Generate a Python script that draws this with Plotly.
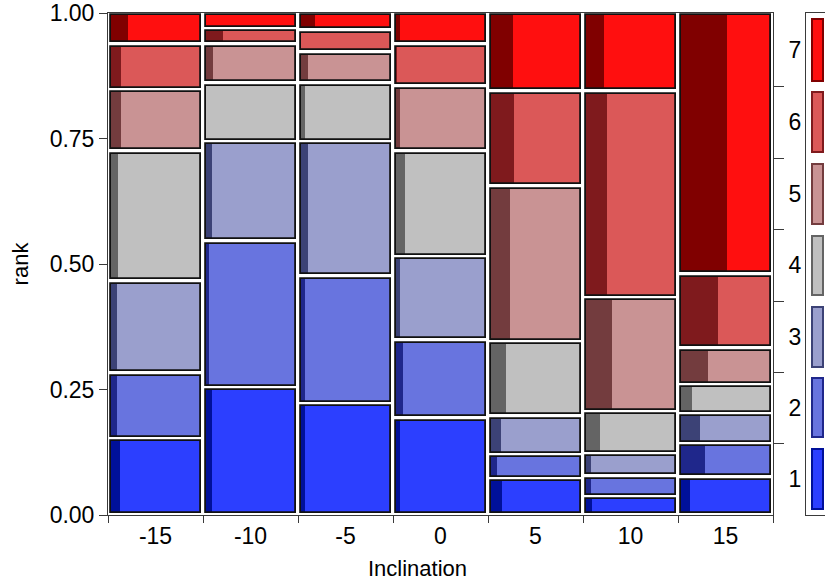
import numpy as np
import plotly.graph_objects as go

# Inclination levels (x) and rank levels (stacked within each column)
inclination = ["-15", "-10", "-5", "0", "5", "10", "15"]
ranks = ["1", "2", "3", "4", "5", "6", "7"]

# Share of each rank within each inclination column
share_r1 = [0.151, 0.253, 0.221, 0.192, 0.072, 0.036, 0.075]
share_r2 = [0.131, 0.292, 0.254, 0.156, 0.048, 0.041, 0.066]
share_r3 = [0.183, 0.198, 0.268, 0.166, 0.076, 0.045, 0.060]
share_r4 = [0.259, 0.117, 0.117, 0.210, 0.149, 0.083, 0.058]
share_r5 = [0.123, 0.077, 0.061, 0.130, 0.309, 0.227, 0.073]
share_r6 = [0.090, 0.031, 0.044, 0.083, 0.190, 0.412, 0.147]
share_r7 = [0.063, 0.032, 0.035, 0.063, 0.156, 0.156, 0.521]

# Fraction of each cell taken by the darker sub-group strip
dark_r1 = [0.107, 0.070, 0.048, 0.045, 0.133, 0.074, 0.100]
dark_r2 = [0.074, 0.040, 0.048, 0.085, 0.067, 0.063, 0.267]
dark_r3 = [0.074, 0.074, 0.078, 0.050, 0.122, 0.063, 0.222]
dark_r4 = [0.085, 0.000, 0.048, 0.105, 0.167, 0.160, 0.133]
dark_r5 = [0.115, 0.085, 0.078, 0.050, 0.222, 0.297, 0.311]
dark_r6 = [0.115, 0.196, 0.000, 0.020, 0.256, 0.240, 0.422]
dark_r7 = [0.196, 0.000, 0.160, 0.050, 0.245, 0.208, 0.518]

shares = [share_r1, share_r2, share_r3, share_r4, share_r5, share_r6, share_r7]
darks = [dark_r1, dark_r2, dark_r3, dark_r4, dark_r5, dark_r6, dark_r7]

light_colors = ["#2c3fff", "#6874df", "#9a9fcd", "#c0c0c0", "#c99394", "#db5858", "#ff0f0f"]
dark_colors = ["#00109a", "#1f278b", "#3c4276", "#646464", "#733c3e", "#7f1a1d", "#800000"]

FONT = "Liberation Sans, Arial, sans-serif"
FS_TICK = 23
FS_TITLE = 22

S = np.array(shares, dtype=float)
S = S / S.sum(axis=0, keepdims=True)
cum = np.vstack([np.zeros(S.shape[1]), np.cumsum(S, axis=0)[:-1]])

cw = 1 - 5 / 95.0        # cell width (category units)
gy = 4.5 / 502.0         # vertical gap between stacked cells

fig = go.Figure()

for k in range(len(ranks)):
    h = S[k] - gy
    b = cum[k] + gy / 2
    fig.add_trace(go.Bar(
        x=inclination, y=h, base=b, width=cw, offset=-cw / 2,
        marker=dict(color=light_colors[k], line=dict(width=0)),
        showlegend=False, hoverinfo="skip"))
    fig.add_trace(go.Bar(
        x=inclination, y=h, base=b, width=[cw * d for d in darks[k]], offset=-cw / 2,
        marker=dict(color=dark_colors[k], line=dict(width=0)),
        showlegend=False, hoverinfo="skip"))
    fig.add_trace(go.Bar(
        x=inclination, y=h, base=b, width=cw, offset=-cw / 2,
        marker=dict(color="rgba(0,0,0,0)", line=dict(color="#111111", width=1.8)),
        showlegend=False, hoverinfo="skip"))

# Marginal rank distribution (right axis and colour key)
marg = S.mean(axis=1)
mcum = np.concatenate([[0], np.cumsum(marg)])
bounds = mcum[1:-1]
centers = (mcum[:-1] + mcum[1:]) / 2

fig.add_trace(go.Bar(
    x=[0.5] * len(ranks), y=marg - 2 * gy * 1.3, base=mcum[:-1] + gy * 1.3,
    width=0.58, offset=-0.2,
    marker=dict(color=light_colors, line=dict(color=dark_colors, width=2)),
    xaxis="x2", yaxis="y2", showlegend=False, hoverinfo="skip"))

# invisible anchors for the right-hand rank axes
fig.add_trace(go.Scatter(x=[inclination[0]], y=[0.5], yaxis="y3", mode="markers",
                         marker=dict(opacity=0), showlegend=False, hoverinfo="skip"))
fig.add_trace(go.Scatter(x=[inclination[0]], y=[0.5], yaxis="y4", mode="markers",
                         marker=dict(opacity=0), showlegend=False, hoverinfo="skip"))

main_right = 665 / 717.0
key_left = 698 / 717.0
line_col = "#3a3a3a"

fig.update_layout(
    width=825, height=585,
    margin=dict(l=108, r=0, t=13, b=70),
    paper_bgcolor="white", plot_bgcolor="white",
    barmode="overlay", bargap=0,
    font=dict(family=FONT, size=FS_TICK, color="black"),
    xaxis=dict(
        type="category", domain=[0, main_right], range=[-0.5, 6.5],
        showline=True, mirror=True, linecolor=line_col, linewidth=1,
        ticks="outside", tickson="boundaries", ticklen=7, tickcolor=line_col,
        showgrid=False, zeroline=False,
        tickfont=dict(size=FS_TICK)),
    yaxis=dict(
        range=[0, 1], tickvals=[0, 0.25, 0.5, 0.75, 1.0], tickformat=".2f",
        showline=True, mirror=True, linecolor=line_col, linewidth=1,
        ticks="outside", ticklen=8, tickcolor=line_col,
        showgrid=False, zeroline=False,
        tickfont=dict(size=FS_TICK),
        title=dict(text="rank", font=dict(size=FS_TITLE), standoff=14)),
    yaxis3=dict(
        overlaying="y", side="right", anchor="x", range=[0, 1],
        tickvals=list(bounds), showticklabels=False,
        ticks="outside", ticklen=10, tickcolor=line_col,
        showgrid=False, zeroline=False, showline=False),
    yaxis4=dict(
        overlaying="y", side="right", anchor="x", range=[0, 1],
        tickvals=list(centers), ticktext=ranks,
        ticks="outside", ticklen=10, tickcolor="rgba(0,0,0,0)",
        showgrid=False, zeroline=False, showline=False,
        tickfont=dict(size=FS_TICK)),
    xaxis2=dict(
        domain=[key_left, 1], anchor="y2", range=[0, 1],
        showline=True, mirror=True, linecolor=line_col, linewidth=1,
        showticklabels=False, ticks="", showgrid=False, zeroline=False),
    yaxis2=dict(
        domain=[0, 1], anchor="x2", range=[0, 1],
        showline=True, mirror=False, linecolor=line_col, linewidth=1,
        showticklabels=False, ticks="", showgrid=False, zeroline=False),
    annotations=[dict(
        text="Inclination", xref="paper", yref="paper",
        x=(417 - 108) / 717.0, y=-(568 - 515) / 502.0,
        xanchor="center", yanchor="middle", showarrow=False,
        font=dict(size=FS_TITLE))],
)

fig.write_html("out.html")
